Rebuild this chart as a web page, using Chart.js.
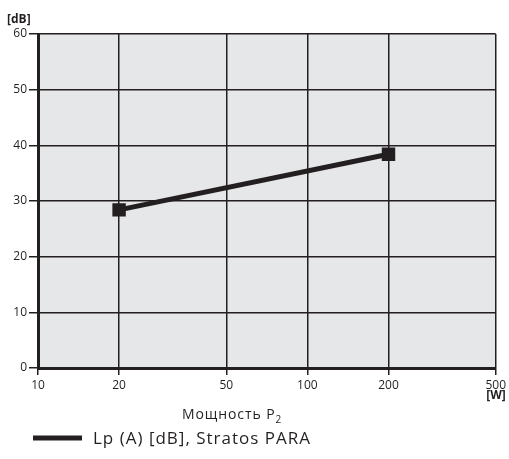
<!DOCTYPE html>
<html>
<head>
<meta charset="utf-8">
<script src="https://cdn.jsdelivr.net/npm/chart.js@4.4.1/dist/chart.umd.min.js"></script>
<style>
	html, body { margin: 0; padding: 0; background: #fff; }
	#wrap { width: 509px; height: 459px; }
</style>
</head>
<body>
<div id="wrap"><canvas id="c" width="509" height="459"></canvas></div>
<script>
// Data
const powerW = [20, 200];
const noiseDb = [28.4, 38.4];
const xTicks = [10, 20, 50, 100, 200, 500];
const yTicks = [0, 10, 20, 30, 40, 50, 60];
const seriesLabel = "Lp (A) [dB], Stratos PARA";
const xTitle = "Мощность P";
const xTitleSub = "2";
const yUnit = "[dB]";
const xUnit = "[W]";

const ink = "#231f20";
const FONT = "'Open Sans', 'Noto Sans', sans-serif";

// Grey plot background, unit labels, axis title and legend
Chart.register({
	id: "plotExtras",
	beforeDraw: (chart) => {
		const { ctx, chartArea } = chart;
		ctx.save();
		ctx.fillStyle = "#e6e7e9";
		ctx.fillRect(chartArea.left, chartArea.top, chartArea.right - chartArea.left, chartArea.bottom - chartArea.top);
		ctx.restore();
	},
	afterDraw: (chart) => {
		const { ctx, chartArea } = chart;
		const ds = chart.data.datasets[0];
		ctx.save();
		ctx.fillStyle = ink;
		ctx.textBaseline = "alphabetic";

		// units
		ctx.font = "bold 12px " + FONT;
		ctx.textAlign = "left";
		ctx.fillText(yUnit, 7, 23);
		ctx.textAlign = "right";
		ctx.fillText(xUnit, chartArea.right + 10, 399);

		// x axis title with subscript
		ctx.textAlign = "left";
		ctx.font = "14px " + FONT;
		ctx.letterSpacing = "0.9px";
		ctx.fillText(xTitle, 182, 419);
		const w = ctx.measureText(xTitle).width;
		ctx.font = "10px " + FONT;
		ctx.fillText(xTitleSub, 182 + w, 423);

		// legend
		ctx.strokeStyle = ds.borderColor;
		ctx.lineWidth = 5;
		ctx.beginPath();
		ctx.moveTo(33, 438);
		ctx.lineTo(82, 438);
		ctx.stroke();
		ctx.font = "17px " + FONT;
		ctx.letterSpacing = "1px";
		ctx.fillText(ds.label, 93, 444);
		ctx.restore();
	},
});

const chart = new Chart(document.getElementById("c"), {
	type: "line",
	data: {
		datasets: [
			{
				label: seriesLabel,
				data: powerW.map((x, i) => ({ x: x, y: noiseDb[i] })),
				borderColor: ink,
				backgroundColor: ink,
				borderWidth: 5,
				pointStyle: "rect",
				pointRadius: 9.5,
				pointBorderWidth: 0,
				tension: 0,
			},
		],
	},
	options: {
		responsive: false,
		animation: false,
		layout: { padding: { top: 34, right: 12, left: 0, bottom: 61 } },
		scales: {
			x: {
				type: "logarithmic",
				min: 10,
				max: 500,
				afterBuildTicks: (scale) => {
					scale.ticks = xTicks.map((v) => ({ value: v }));
				},
				afterFit: (scale) => {
					scale.height = 30;
				},
				ticks: {
					color: ink,
					font: { family: FONT, size: 12 },
					padding: 3,
					maxRotation: 0,
					autoSkip: false,
					callback: (v) => String(v),
				},
				grid: {
					color: ink,
					lineWidth: 1.5,
					tickLength: 7,
				},
				border: { color: ink, width: 3 },
			},
			y: {
				min: 0,
				max: 60,
				afterBuildTicks: (scale) => {
					scale.ticks = yTicks.map((v) => ({ value: v }));
				},
				afterFit: (scale) => {
					scale.width = 38;
				},
				ticks: {
					color: ink,
					font: { family: FONT, size: 12 },
					padding: 2,
				},
				grid: {
					color: ink,
					lineWidth: 1.5,
					tickLength: 9,
				},
				border: { color: ink, width: 3 },
			},
		},
		plugins: {
			legend: { display: false },
			tooltip: { enabled: false },
		},
	},
});
</script>
</body>
</html>
